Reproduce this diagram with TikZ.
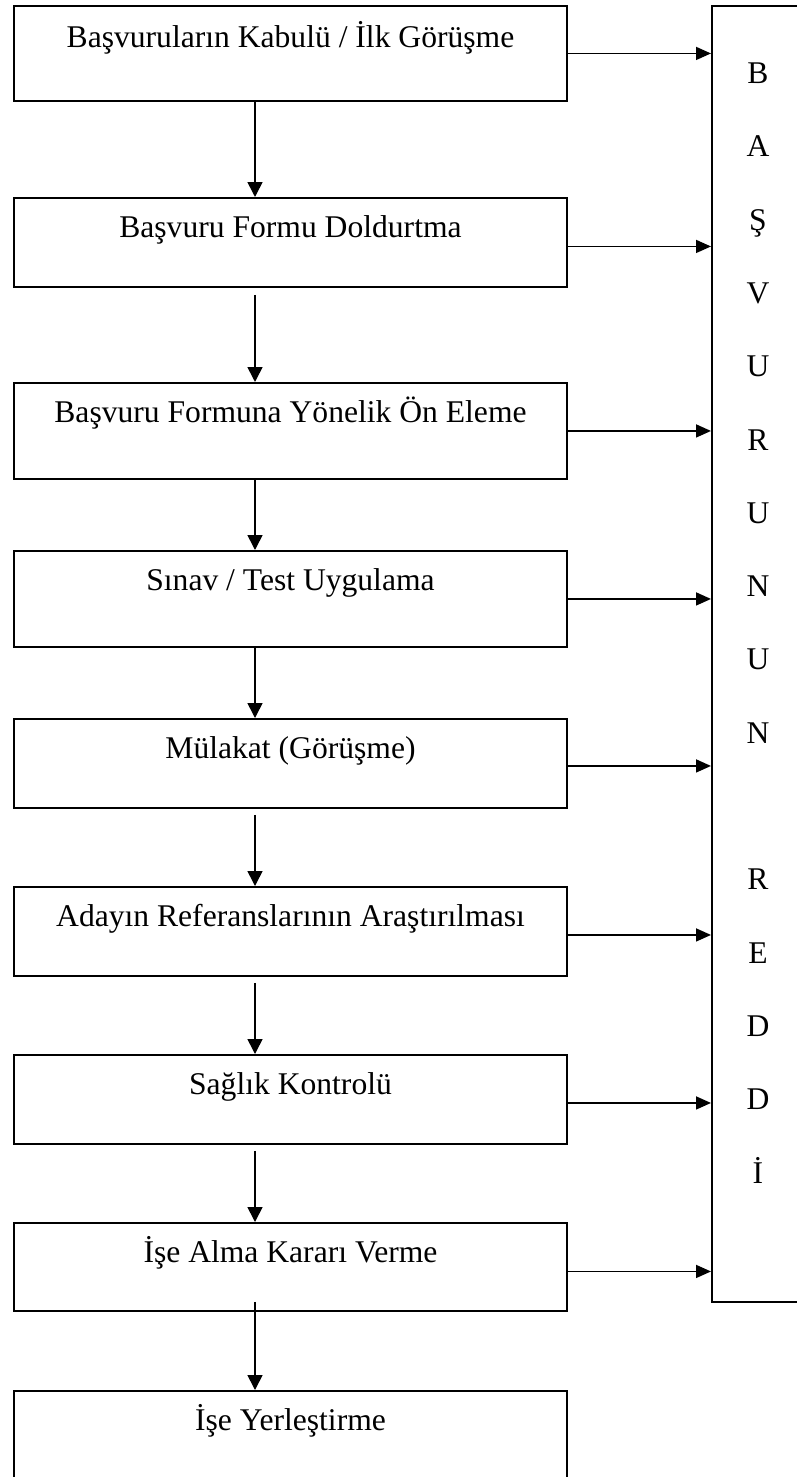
\documentclass[tikz,border=0pt]{standalone}
\usepackage{fontspec}
\setmainfont{Liberation Serif}
\usetikzlibrary{arrows.meta,calc}
\begin{document}
\begin{tikzpicture}[x=1pt,y=-1pt,
  stage/.style={draw, line width=1.9pt, rectangle, anchor=north,
    minimum width=553pt, inner xsep=0pt, inner ysep=0pt,
    text height=40pt, text depth=#1,
    font=\fontsize{31.6}{38}\selectfont},
  flow/.style={line width=1.6pt, -{Triangle[length=15pt,width=15pt]}},
  sideflow/.style={line width=1.6pt, -{Triangle[length=15pt,width=13pt]}},
  letter/.style={anchor=base, inner sep=0pt, font=\fontsize{31.6}{38}\selectfont}]

% page frame
\fill[white] (0,0) rectangle (797,1477);
\useasboundingbox (0,0) rectangle (797,1477);

% process stages
\node[stage=53pt, text height=42pt] (b1) at (290.5,5)    {Başvuruların Kabulü / İlk Görüşme};
\node[stage=49pt] (b2) at (290.5,197)  {Başvuru Formu Doldurtma};
\node[stage=56pt] (b3) at (290.5,382)  {Başvuru Formuna Yönelik Ön Eleme};
\node[stage=56pt] (b4) at (290.5,550)  {Sınav / Test Uygulama};
\node[stage=49pt] (b5) at (290.5,718)  {Mülakat (Görüşme)};
\node[stage=49pt] (b6) at (290.5,886)  {Adayın Referanslarının Araştırılması};
\node[stage=49pt] (b7) at (290.5,1054) {Sağlık Kontrolü};
\node[stage=48pt] (b8) at (290.5,1222) {İşe Alma Kararı Verme};
\node[stage=55pt] (b9) at (290.5,1390) {İşe Yerleştirme};

% rejection column
\node[draw, line width=1.9pt, rectangle, inner sep=0pt, anchor=north west,
      minimum width=94pt, minimum height=1296pt] (rbox) at (711,5) {};
\foreach \c/\k in {B/1,A/2,Ş/3,V/4,U/5,R/6,U/7,N/8,U/9,N/10,R/12,E/13,D/14,D/15,İ/16}
  \node[letter] (ch\k) at (758,{83.5+73.3*(\k-1)}) {\c};

% main flow
\coordinate (ax) at (255,0);
\draw[flow] (b1.south -| ax) -- (b2.north -| ax);
\draw[flow] ($(b2.south -| ax)+(0,7)$) -- (b3.north -| ax);
\draw[flow] (b3.south -| ax) -- (b4.north -| ax);
\draw[flow] (b4.south -| ax) -- (b5.north -| ax);
\draw[flow] ($(b5.south -| ax)+(0,6)$) -- (b6.north -| ax);
\draw[flow] ($(b6.south -| ax)+(0,6)$) -- (b7.north -| ax);
\draw[flow] ($(b7.south -| ax)+(0,6)$) -- (b8.north -| ax);
\draw[flow] ($(b8.south -| ax)+(0,-10)$) -- (b9.north -| ax);

% rejection arrows
\draw[sideflow] (b1.east) -- (b1.east -| rbox.west);
\draw[sideflow] ([yshift=-4pt]b2.east) -- ([yshift=-4pt]b2.east -| rbox.west);
\draw[sideflow] (b3.east) -- (b3.east -| rbox.west);
\draw[sideflow] (b4.east) -- (b4.east -| rbox.west);
\draw[sideflow] ([yshift=-2.5pt]b5.east) -- ([yshift=-2.5pt]b5.east -| rbox.west);
\draw[sideflow] ([yshift=-3.5pt]b6.east) -- ([yshift=-3.5pt]b6.east -| rbox.west);
\draw[sideflow] ([yshift=-3.5pt]b7.east) -- ([yshift=-3.5pt]b7.east -| rbox.west);
\draw[sideflow] ([yshift=-4.5pt]b8.east) -- ([yshift=-4.5pt]b8.east -| rbox.west);
\end{tikzpicture}
\end{document}
